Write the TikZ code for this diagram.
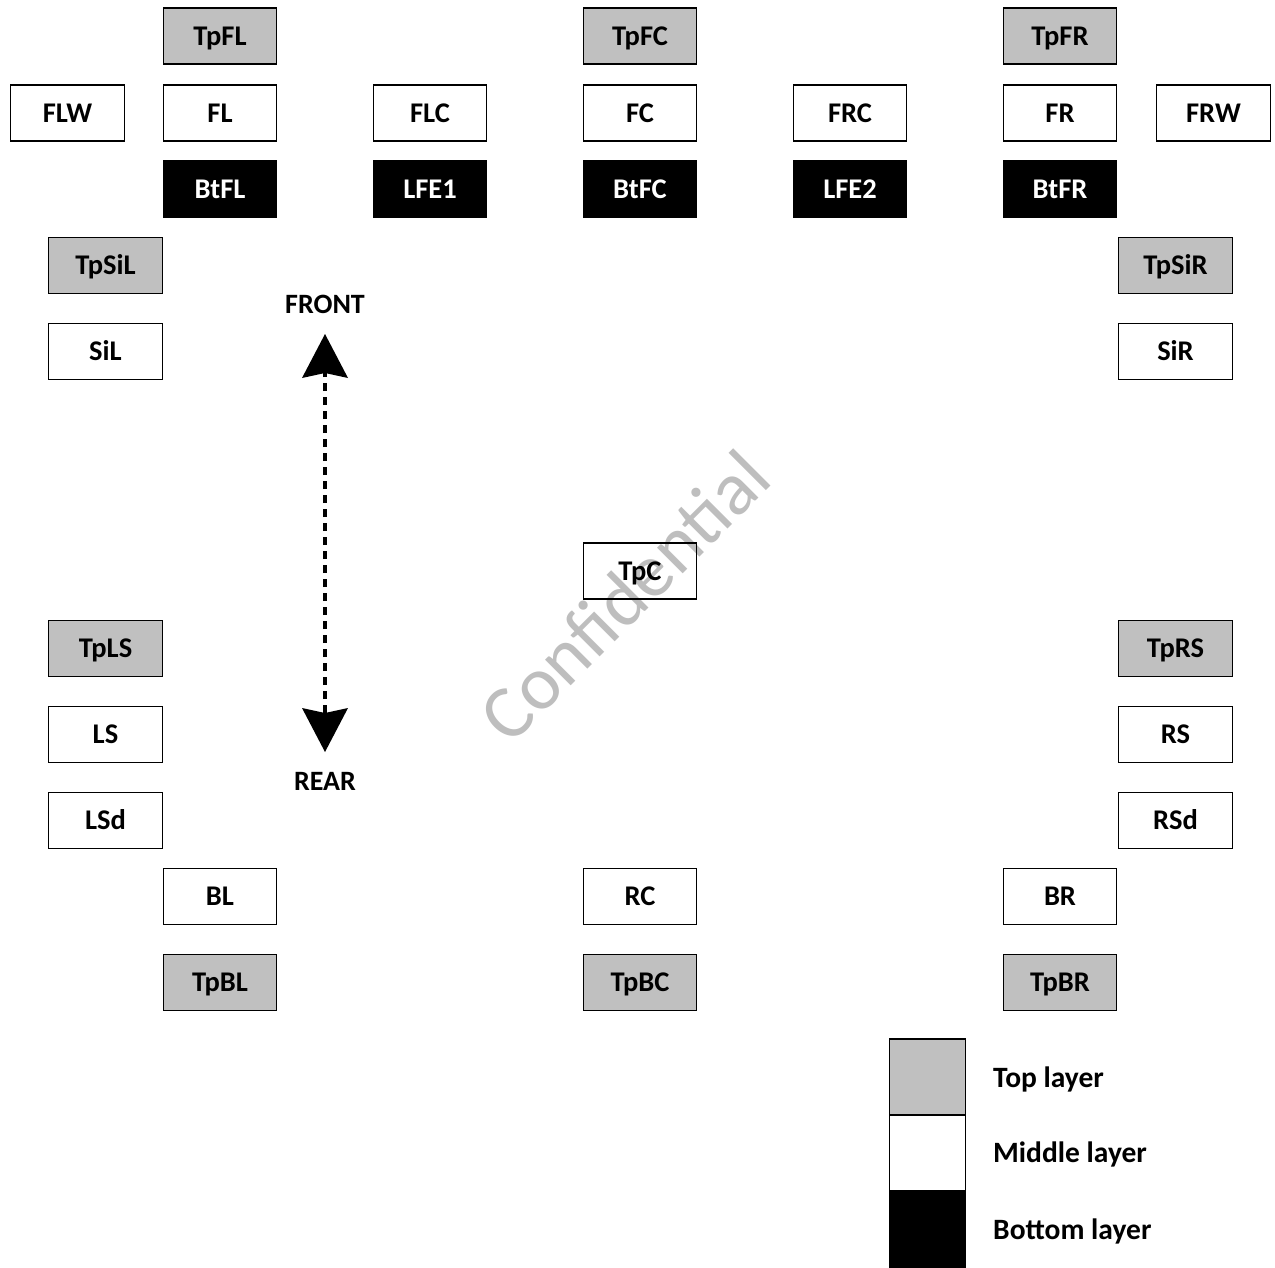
\documentclass[tikz,border=0pt]{standalone}
\usepackage{fontspec}
\setmainfont{Carlito}
\usetikzlibrary{arrows.meta}
\definecolor{topgray}{RGB}{192,192,192}
\definecolor{wmgray}{RGB}{190,190,190}
\tikzset{
  spk/.style={draw=black, line width=1.4pt, minimum width=113.5pt, minimum height=56pt,
              inner sep=0pt, text height=18.3pt, text depth=0pt,
              font=\fontsize{28.5}{30}\selectfont\bfseries},
  toplay/.style={spk, fill=topgray},
  midlay/.style={spk},
  botlay/.style={spk, fill=black, text=white},
  lbl/.style={font=\fontsize{28}{30}\selectfont\bfseries, inner sep=0pt, text height=18pt, text depth=0pt},
  leglbl/.style={inner sep=0pt, text height=19pt, text depth=0pt, font=\fontsize{29.5}{31}\selectfont\bfseries, anchor=west},
  legbox/.style={draw=black, line width=1.2pt, minimum width=76pt, minimum height=76pt, inner sep=0pt},
}
\begin{document}
\begin{tikzpicture}[x=1pt,y=-1pt]
\useasboundingbox (0,0) rectangle (1275,1268);
\fill[white] (0,0) rectangle (1275,1268);
% watermark
\node[text=wmgray, font=\fontsize{76}{80}\selectfont, rotate=45, anchor=base, inner sep=0pt] (wm) at (643,614) {Confidential};
% top row
\node[toplay] (TpFL) at (220,36) {TpFL};
\node[toplay] (TpFC) at (640,36) {TpFC};
\node[toplay] (TpFR) at (1060,36) {TpFR};
% middle front row
\node[midlay] (FLW) at (67.5,113) {FLW};
\node[midlay] (FL) at (220,113) {FL};
\node[midlay] (FLC) at (430,113) {FLC};
\node[midlay] (FC) at (640,113) {FC};
\node[midlay] (FRC) at (850,113) {FRC};
\node[midlay] (FR) at (1060,113) {FR};
\node[midlay] (FRW) at (1213.5,113) {FRW};
% bottom front row
\node[botlay] (BtFL) at (220,189) {BtFL};
\node[botlay] (LFE1) at (430,189) {LFE1};
\node[botlay] (BtFC) at (640,189) {BtFC};
\node[botlay] (LFE2) at (850,189) {LFE2};
\node[botlay] (BtFR) at (1060,189) {BtFR};
% sides
\node[toplay] (TpSiL) at (105.5,265.5) {TpSiL};
\node[toplay] (TpSiR) at (1175.5,265.5) {TpSiR};
\node[midlay] (SiL) at (105.5,351.5) {SiL};
\node[midlay] (SiR) at (1175.5,351.5) {SiR};
\node[midlay] (TpC) at (640,571) {TpC};
\node[toplay] (TpLS) at (105.5,648.5) {TpLS};
\node[toplay] (TpRS) at (1175.5,648.5) {TpRS};
\node[midlay] (LS) at (105.5,734.5) {LS};
\node[midlay] (RS) at (1175.5,734.5) {RS};
\node[midlay] (LSd) at (105.5,820.5) {LSd};
\node[midlay] (RSd) at (1175.5,820.5) {RSd};
% rear
\node[midlay] (BL) at (220,896.5) {BL};
\node[midlay] (RC) at (640,896.5) {RC};
\node[midlay] (BR) at (1060,896.5) {BR};
\node[toplay] (TpBL) at (220,982.5) {TpBL};
\node[toplay] (TpBC) at (640,982.5) {TpBC};
\node[toplay] (TpBR) at (1060,982.5) {TpBR};
% front/rear arrow
\node[lbl] (front) at (325,304) {FRONT};
\node[lbl] (rear) at (325,781) {REAR};
\coordinate (atop) at (325,334);
\coordinate (abot) at (325,752);
\draw[line width=3.5pt, dash pattern=on 8pt off 6pt,
      {Stealth[length=44pt, width=46pt, inset=5pt, line width=0pt]}-{Stealth[length=44pt, width=46pt, inset=5pt, line width=0pt]}]
      (abot) -- (atop);
% legend
\node[legbox, fill=topgray] (legtop) at (927.5,1077) {};
\node[legbox, fill=white] (legmid) at (927.5,1153) {};
\node[legbox, fill=black] (legbot) at (927.5,1229) {};
\node[leglbl] (legtoptxt) at (993,1077.5) {Top layer};
\node[leglbl] (legmidtxt) at (993,1153) {Middle layer};
\node[leglbl] (legbottxt) at (993,1229.5) {Bottom layer};
\end{tikzpicture}
\end{document}
